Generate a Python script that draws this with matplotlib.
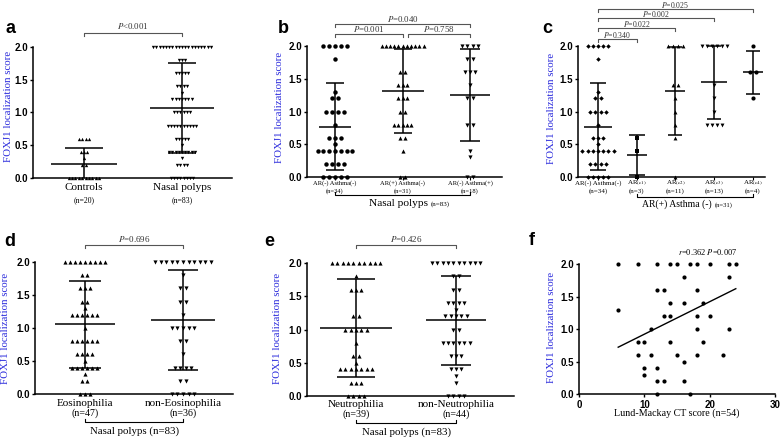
import numpy as np
import matplotlib
matplotlib.use('Agg')
import matplotlib.pyplot as plt

plt.rcParams['font.family'] = ['Liberation Serif', 'DejaVu Serif']
plt.rcParams['mathtext.fontset'] = 'stix'

SANS = 'Liberation Sans'
BLUE = '#2b2bdc'
GRAY = '#555555'
W, H = 782, 440

# ---- values: score levels and how many patients at each ----
ctrl_lv = [0.0, 0.2, 0.3, 0.4, 0.6]
ctrl_n = [10, 2, 1, 3, 4]
np_lv = [0.0, 0.2, 0.3, 0.4, 0.5, 0.6, 0.8, 1.0, 1.2, 1.3, 1.4, 1.6, 1.8, 2.0]
np_n = [8, 4, 1, 9, 1, 5, 10, 6, 7, 1, 4, 5, 3, 19]

arneg_lv = [0.0, 0.2, 0.4, 0.5, 0.6, 0.8, 1.0, 1.2, 1.3, 1.8, 2.0]
arneg_n = [5, 4, 7, 1, 3, 1, 4, 2, 1, 1, 5]
asth_lv = [0.0, 0.3, 0.4, 0.8, 1.2, 1.4, 1.6, 1.8, 2.0]
asth_n = [2, 1, 1, 2, 2, 1, 3, 2, 4]

c1_vals = [0.0, 0.4, 0.6]
c2_lv = [0.0, 0.6, 0.8, 1.0, 1.2, 1.4, 2.0]
c2_n = [1, 1, 1, 1, 1, 2, 4]
c3_lv = [0.8, 1.0, 1.2, 1.4, 2.0]
c3_n = [4, 1, 1, 1, 6]
c4_vals = [1.2, 1.6, 1.6, 2.0]

eos_lv = [0.0, 0.2, 0.3, 0.4, 0.5, 0.6, 0.8, 1.0, 1.2, 1.3, 1.4, 1.6, 1.8, 2.0]
eos_n = [3, 2, 1, 6, 1, 4, 6, 1, 6, 1, 2, 3, 2, 9]
noneos_lv = [0.0, 0.2, 0.4, 0.6, 0.8, 1.0, 1.2, 1.4, 1.6, 1.8, 2.0]
noneos_n = [5, 2, 4, 1, 2, 5, 1, 2, 2, 1, 11]

neu_lv = [0.0, 0.2, 0.4, 0.5, 0.6, 0.8, 1.0, 1.2, 1.6, 1.8, 2.0]
neu_n = [4, 3, 7, 1, 2, 1, 5, 2, 3, 1, 10]
nonneu_lv = [0.0, 0.2, 0.3, 0.4, 0.6, 0.8, 1.0, 1.2, 1.3, 1.4, 1.6, 1.8, 2.0]
nonneu_n = [4, 1, 1, 3, 3, 6, 2, 5, 1, 4, 2, 2, 10]

ct_score = [6, 9, 12, 14, 15, 17, 18, 20, 23, 24,
            16, 23, 12, 13, 18, 14, 16, 19, 6, 13, 14, 18, 20,
            11, 18, 23, 9, 10, 14, 19, 9, 11, 15, 18, 22,
            16, 10, 12, 10, 12, 13, 16, 12, 17]
ct_foxj1 = [2.0] * 10 + [1.8, 1.8, 1.6, 1.6, 1.6, 1.4, 1.4, 1.4, 1.3,
            1.2, 1.2, 1.2, 1.2, 1.0, 1.0, 1.0, 0.8, 0.8, 0.8, 0.8,
            0.6, 0.6, 0.6, 0.6, 0.6, 0.5, 0.4, 0.4, 0.3, 0.2, 0.2, 0.2, 0.0, 0.0]
fit_x = [6, 24]
fit_y = [0.72, 1.62]

ctrl = np.repeat(ctrl_lv, ctrl_n)
polyps = np.repeat(np_lv, np_n)
ar_neg = np.repeat(arneg_lv, arneg_n)
asthma = np.repeat(asth_lv, asth_n)
c2 = np.repeat(c2_lv, c2_n)
c3 = np.repeat(c3_lv, c3_n)
ar_pos = np.concatenate([c1_vals, c2, c3, c4_vals])
eos = np.repeat(eos_lv, eos_n)
noneos = np.repeat(noneos_lv, noneos_n)
neu = np.repeat(neu_lv, neu_n)
nonneu = np.repeat(nonneu_lv, nonneu_n)

fig = plt.figure(figsize=(W / 100, H / 100), dpi=100)
boxes = {}


def panel(l, r, t, b, xlim, ylab_xy):
    ax = fig.add_axes([l / W, 1 - b / H, (r - l) / W, (b - t) / H])
    boxes[ax] = (l, r, t, b)
    ax.set_xlim(*xlim)
    ax.set_ylim(0, 2)
    for s in ('top', 'right'):
        ax.spines[s].set_visible(False)
    for s in ('left', 'bottom'):
        ax.spines[s].set_linewidth(1.1)
    yt = [0, 0.5, 1.0, 1.5, 2.0]
    ax.set_yticks(yt, labels=['%.1f' % v for v in yt], fontsize=7,
                  fontweight='bold', fontfamily=SANS)
    ax.tick_params(axis='y', length=2.5, width=1, pad=1)
    ax.set_xticks([])
    ax.set_ylabel('FOXJ1 localization score', fontsize=7.8, color=BLUE)
    ax.yaxis.label.set_va('center')
    ax.yaxis.set_label_coords((ylab_xy[0] - l) / (r - l), (b - ylab_xy[1]) / (b - t))
    return ax


def dpx(ax):
    l, r, t, b = boxes[ax]
    x0, x1 = ax.get_xlim()
    return (x1 - x0) / (r - l)


def xd(ax, xpx):
    # pixel column -> data x
    return ax.get_xlim()[0] + (xpx - boxes[ax][0]) * dpx(ax)


def yf(ax, ypx):
    l, r, t, b = boxes[ax]
    return (b - ypx) / (b - t)


def dots(ax, xc, vals, marker, ms, step, mean_hw, cap_hw):
    k = dpx(ax)
    vals = np.asarray(vals, dtype=float)
    xs, ys = [], []
    for v in np.unique(vals):
        n = int(np.sum(vals == v))
        off = (np.arange(n) - (n - 1) / 2) * step * k
        xs.extend(xc + off)
        ys.extend([v] * n)
    ax.plot(xs, ys, ls='none', marker=marker, ms=ms, color='black', mew=0,
            clip_on=False, zorder=3)
    m, s = vals.mean(), vals.std(ddof=1)
    kw = dict(color='black', lw=1.1, clip_on=False, solid_capstyle='butt', zorder=4)
    ax.plot([xc - mean_hw * k, xc + mean_hw * k], [m, m], **kw)
    lo, hi = m - s, m + s
    ax.plot([xc, xc], [max(lo, 0), hi], **kw)
    ax.plot([xc - cap_hw * k, xc + cap_hw * k], [hi, hi], **kw)
    if lo > 0:
        ax.plot([xc - cap_hw * k, xc + cap_hw * k], [lo, lo], **kw)


def p_bar(ax, x0, x1, ypx, label, dx0=0, dx1=0, gap=6, size=6.3):
    k = dpx(ax)
    x0, x1 = x0 + dx0 * k, x1 + dx1 * k
    tr = ax.get_xaxis_transform()
    ax.plot([x0, x0, x1, x1], [yf(ax, ypx + 3), yf(ax, ypx), yf(ax, ypx), yf(ax, ypx + 3)],
            transform=tr, color=GRAY, lw=0.8, clip_on=False)
    ax.text((x0 + x1) / 2, yf(ax, ypx - gap), label, transform=tr, ha='center',
            va='center', fontsize=size, color='#333333')


def under(ax, x, ypx, s, size, ha='center'):
    ax.text(x, yf(ax, ypx), s, transform=ax.get_xaxis_transform(), ha=ha,
            va='center', fontsize=size)


def low_bar(ax, x0, x1, ypx):
    tr = ax.get_xaxis_transform()
    ax.plot([x0, x0, x1, x1], [yf(ax, ypx - 3), yf(ax, ypx), yf(ax, ypx), yf(ax, ypx - 3)],
            transform=tr, color='black', lw=0.8, clip_on=False)


def letter(xpx, ypx, s):
    fig.text(xpx / W, 1 - ypx / H, s, fontsize=13, fontweight='bold',
             fontfamily=SANS, ha='center', va='baseline')


# ---- a ----
ax = panel(33, 232, 47, 178, (-0.52, 1.51), (9, 106))
dots(ax, 0, ctrl, '^', 2.4, 3.4, 33, 19)
dots(ax, 1, polyps, 'v', 2.4, 3.2, 32, 14)
p_bar(ax, 0, 1, 33, '$P$<0.001', gap=7)
under(ax, 0, 188, 'Controls', 8)
under(ax, 0, 200, '(n=20)', 5.6)
under(ax, 1, 188, 'Nasal polyps', 8)
under(ax, 1, 200, '(n=83)', 5.6)
letter(10, 33, 'a')

# ---- b ----
ax = panel(307, 502, 46, 177, (-0.415, 2.474), (280, 107))
ax.set_xticks([0, 1, 2], labels=[])
ax.tick_params(axis='x', length=2, width=0.8)
dots(ax, 0, ar_neg, 'o', 3.2, 5.8, 16, 9)
dots(ax, 1, ar_pos, '^', 3.0, 4.2, 21, 9)
dots(ax, 2, asthma, 'v', 3.0, 5.4, 20, 10)
p_bar(ax, 0, 2, 24, '$P$=0.040', gap=5)
p_bar(ax, 0, 1, 34, '$P$=0.001', gap=5)
p_bar(ax, 1, 2, 34, '$P$=0.758', dx0=5, gap=5)
for i, (g, n) in enumerate([('AR(-) Asthma(-)', 34), ('AR(+) Asthma(-)', 31),
                            ('AR(-) Asthma(+)', 18)]):
    under(ax, i, 183, g, 4.7)
    under(ax, i, 191, '(n=%d)' % n, 4.7)
low_bar(ax, 0, 2, 195)
under(ax, xd(ax, 428), 203, 'Nasal polyps', 8.2, ha='right')
under(ax, xd(ax, 431), 204, '(n=83)', 5, ha='left')
letter(283, 33, 'b')

# ---- c ----
ax = panel(578, 765, 46, 177, (-0.516, 4.31), (552, 108))
ax.set_xticks([0, 1, 2, 3, 4], labels=[])
ax.tick_params(axis='x', length=2, width=0.8)
dots(ax, 0, ar_neg, 'D', 2.3, 5.2, 14, 8)
dots(ax, 1, c1_vals, 's', 3.0, 5.0, 10, 8)
dots(ax, 2, c2, '^', 2.8, 5.2, 10, 7)
dots(ax, 3, c3, 'v', 2.8, 5.0, 13, 7)
dots(ax, 4, c4_vals, 'o', 3.0, 5.6, 10, 7)
p_bar(ax, 0, 4, 8.5, '$P$=0.025', gap=4, size=5.6)
p_bar(ax, 0, 3, 17.5, '$P$=0.002', gap=4, size=5.6)
p_bar(ax, 0, 2, 28, '$P$=0.022', gap=4, size=5.6)
p_bar(ax, 0, 1, 38.5, '$P$=0.340', gap=4, size=5.6)
under(ax, 0, 183, 'AR(-) Asthma(-)', 5)
under(ax, 0, 191, '(n=34)', 5)
for i, (c, n) in enumerate([('c1', 3), ('c2', 11), ('c3', 13), ('c4', 4)], start=1):
    under(ax, i, 183, r'AR$_{\mathrm{(%s)}}$' % c, 5)
    under(ax, i, 191, '(n=%d)' % n, 5)
low_bar(ax, 1, 4, 197)
under(ax, xd(ax, 712), 204, 'AR(+) Asthma (-)', 7, ha='right')
under(ax, xd(ax, 715), 205, '(n=31)', 4.8, ha='left')
letter(547, 33, 'c')

# ---- d ----
ax = panel(35, 233, 262, 394, (-0.510, 1.510), (6, 328))
dots(ax, 0, eos, '^', 3.0, 5.0, 30, 16)
dots(ax, 1, noneos, 'v', 3.0, 5.6, 32, 15)
p_bar(ax, 0, 1, 245, '$P$=0.696', gap=6, size=6.5)
under(ax, 0, 403, 'Eosinophilia', 8)
under(ax, 0, 413, '(n=47)', 7.2)
under(ax, 1, 403, 'non-Eosinophilia', 8)
under(ax, 1, 413, '(n=36)', 7.2)
low_bar(ax, 0, 1, 422)
under(ax, 0.5, 431, 'Nasal polyps (n=83)', 7.8)
letter(10, 246, 'd')

# ---- e ----
ax = panel(307, 514, 263, 396, (-0.49, 1.58), (278, 328))
dots(ax, 0, neu, '^', 3.0, 5.4, 36, 19)
dots(ax, 1, nonneu, 'v', 3.0, 5.4, 30, 15)
p_bar(ax, 0, 1, 245, '$P$=0.426', gap=6, size=6.5)
under(ax, 0, 404, 'Neutrophilia', 8)
under(ax, 0, 414, '(n=39)', 7.2)
under(ax, 1, 404, 'non-Neutrophilia', 8)
under(ax, 1, 414, '(n=44)', 7.2)
low_bar(ax, 0, 1, 423)
under(ax, 0.5, 432, 'Nasal polyps (n=83)', 7.8)
letter(269, 246, 'e')

# ---- f ----
ax = panel(579, 775, 264, 394, (0, 30), (552, 327))
ax.set_xticks([0, 10, 20, 30], labels=['0', '10', '20', '30'], fontsize=7,
              fontweight='bold', fontfamily=SANS)
ax.tick_params(axis='x', length=2.5, width=1, pad=1.5)
ax.plot(ct_score, ct_foxj1, ls='none', marker='o', ms=3.0, color='black', mew=0,
        clip_on=False, zorder=3)
ax.plot(fit_x, fit_y, color='black', lw=1.0)
ax.set_xlabel('Lund-Mackay CT score (n=54)', fontsize=7.2)
ax.xaxis.set_label_coords(0.5, yf(ax, 413))
ax.xaxis.label.set_va('center')
ax.text((708 - 579) / 196, yf(ax, 252), '$r$=0.362 $P$=0.007', transform=ax.transAxes,
        ha='center', va='center', fontsize=6)
letter(532, 245, 'f')

fig.savefig('out.png', dpi=100)
